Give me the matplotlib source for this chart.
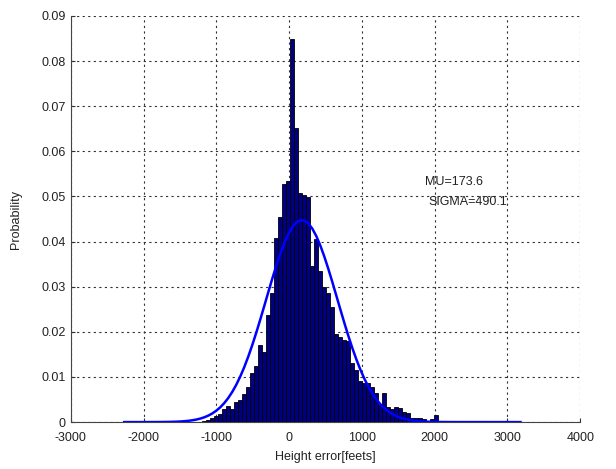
import numpy as np
import matplotlib
matplotlib.use("Agg")
import matplotlib.pyplot as plt

plt.rcParams["font.family"] = ["Liberation Sans", "DejaVu Sans"]
plt.rcParams["axes.unicode_minus"] = False

# histogram bins (feet): 100 bins, width 55, first left edge -2294
bin_start = -2294
bin_width = 55
n_bins = 100

# probabilities for the non-empty bins, starting at bin index 20
first_bin = 20
probs = [
    0.0003, 0.0004, 0.0008, 0.0013, 0.0019, 0.0030, 0.0036, 0.0028, 0.0045, 0.0050,
    0.0062, 0.0077, 0.0108, 0.0125, 0.0170, 0.0156, 0.0237, 0.0285, 0.0408, 0.0455,
    0.0528, 0.0534, 0.0848, 0.0651, 0.0508, 0.0503, 0.0499, 0.0345, 0.0405, 0.0334,
    0.0299, 0.0287, 0.0254, 0.0196, 0.0188, 0.0182, 0.0180, 0.0130, 0.0115, 0.0090,
    0.0087, 0.0086, 0.0078, 0.0064, 0.0038, 0.0065, 0.0034, 0.0030, 0.0034, 0.0032,
    0.0023, 0.0021, 0.0010, 0.0008, 0.0010, 0.0006, 0.0003, 0.0006, 0.0015,
]

mu = 173.6
sigma = 490.1

edges = bin_start + bin_width * np.arange(n_bins + 1)
heights = np.zeros(n_bins)
heights[first_bin:first_bin + len(probs)] = probs
centers = edges[:-1] + bin_width / 2

fig = plt.figure(figsize=(6.16, 4.69), dpi=100)
ax = fig.add_axes([0.115, 0.100, 0.827, 0.866])

ax.bar(edges[:-1], heights, width=bin_width, align="edge",
       color="#000080", edgecolor="black", linewidth=0.6, zorder=2)

# normal fit scaled to bin width
fit = bin_width * np.exp(-0.5 * ((centers - mu) / sigma) ** 2) / (sigma * np.sqrt(2 * np.pi))
ax.plot(centers, fit, color="#0000ff", linewidth=1.8, zorder=3)

ax.set_xlim(-3000, 4000)
ax.set_ylim(0, 0.09)
ax.set_xticks(np.arange(-3000, 4001, 1000))
ax.set_yticks(np.arange(0, 0.0901, 0.01))
ax.set_yticklabels(["0"] + [f"{v:.2f}" for v in np.arange(0.01, 0.0901, 0.01)])

ax.grid(True, color="#333333", linestyle=(0, (2, 3)), linewidth=0.8, zorder=1)
ax.set_axisbelow(True)
ax.spines["top"].set_visible(False)
ax.spines["right"].set_visible(False)
ax.spines["left"].set_color("#444444")
ax.spines["bottom"].set_color("#444444")
ax.tick_params(direction="in", length=3, labelsize=9, colors="#333333",
               labelcolor="#222222")
ax.tick_params(axis="x", pad=7)

ax.set_xlabel("Height error[feets]", fontsize=9, color="#222222", labelpad=5)
ax.set_ylabel("Probability", fontsize=9, color="#222222", labelpad=14)

ax.text(1870, 0.0525, "MU=173.6", fontsize=9, color="#222222")
ax.text(1920, 0.0480, "SIGMA=490.1", fontsize=9, color="#222222")

fig.savefig("out.png", dpi=100)
